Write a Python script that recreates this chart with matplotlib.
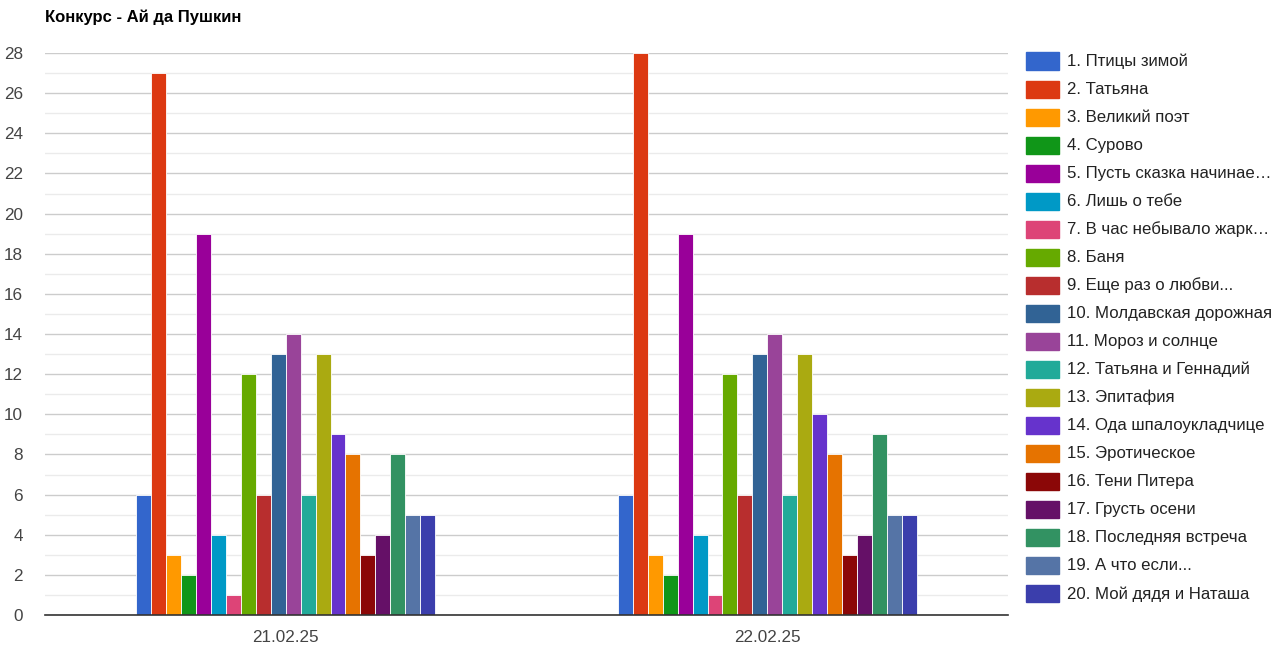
import matplotlib
matplotlib.use("Agg")
import matplotlib.pyplot as plt
from matplotlib.patches import Rectangle
import numpy as np

plt.rcParams['font.family'] = ['Liberation Sans', 'DejaVu Sans']

title = "Конкурс - Ай да Пушкин"
dates = ["21.02.25", "22.02.25"]
series_names = [
    "1. Птицы зимой", "2. Татьяна", "3. Великий поэт", "4. Сурово",
    "5. Пусть сказка начинае…", "6. Лишь о тебе", "7. В час небывало жарк…",
    "8. Баня", "9. Еще раз о любви...", "10. Молдавская дорожная",
    "11. Мороз и солнце", "12. Татьяна и Геннадий", "13. Эпитафия",
    "14. Ода шпалоукладчице", "15. Эротическое", "16. Тени Питера",
    "17. Грусть осени", "18. Последняя встреча", "19. А что если...",
    "20. Мой дядя и Наташа",
]
values_d1 = [6, 27, 3, 2, 19, 4, 1, 12, 6, 13, 14, 6, 13, 9, 8, 3, 4, 8, 5, 5]
values_d2 = [6, 28, 3, 2, 19, 4, 1, 12, 6, 13, 14, 6, 13, 10, 8, 3, 4, 9, 5, 5]
colors = ["#3366cc", "#dc3912", "#ff9900", "#109618", "#990099", "#0099c6",
          "#dd4477", "#66aa00", "#b82e2e", "#316395", "#994499", "#22aa99",
          "#aaaa11", "#6633cc", "#e67300", "#8b0707", "#651067", "#329262",
          "#5574a6", "#3b3eac"]

W, H = 1284, 653
fig = plt.figure(figsize=(W / 100, H / 100), dpi=100)
ax = fig.add_axes([45 / W, 1 - 615 / H, (1008 - 45) / W, (615 - 53) / H])

n = len(series_names)
group_w = 0.62
bw = group_w / n
x = np.arange(len(dates))
for i in range(n):
    vals = [values_d1[i], values_d2[i]]
    ax.bar(x - group_w / 2 + bw * (i + 0.5), vals, width=bw, color=colors[i],
           edgecolor="white", linewidth=0.6, zorder=3)

ax.set_xlim(-0.5, 1.5)
ax.set_ylim(0, 28)
ax.set_yticks(range(0, 29, 2))
ax.set_yticks(range(1, 29, 2), minor=True)
ax.grid(axis="y", which="major", color="#cccccc", linewidth=1, zorder=0)
ax.grid(axis="y", which="minor", color="#ebebeb", linewidth=1, zorder=0)
ax.set_xticks(x)
ax.set_xticklabels(dates)
for s in ["top", "right", "left"]:
    ax.spines[s].set_visible(False)
ax.spines["bottom"].set_color("#333333")
ax.spines["bottom"].set_linewidth(1.2)
ax.spines["bottom"].set_zorder(4)
ax.tick_params(axis="both", which="both", length=0, labelsize=12.3, colors="#444444")
ax.tick_params(axis="y", pad=16)
ax.tick_params(axis="x", pad=11)

fig.text(45 / W, 1 - 17 / H, title, fontsize=12, fontweight="bold",
         color="#000000", va="center", ha="left")

# legend
for i, name in enumerate(series_names):
    yc = 61 + i * 28.05
    fig.patches.append(Rectangle((1026 / W, 1 - (yc + 8.5) / H), 33 / W, 17 / H,
                                 transform=fig.transFigure, color=colors[i]))
    fig.text(1067 / W, 1 - yc / H, name, fontsize=12.1, color="#222222",
             va="center", ha="left")

fig.savefig("out.png", dpi=100)
